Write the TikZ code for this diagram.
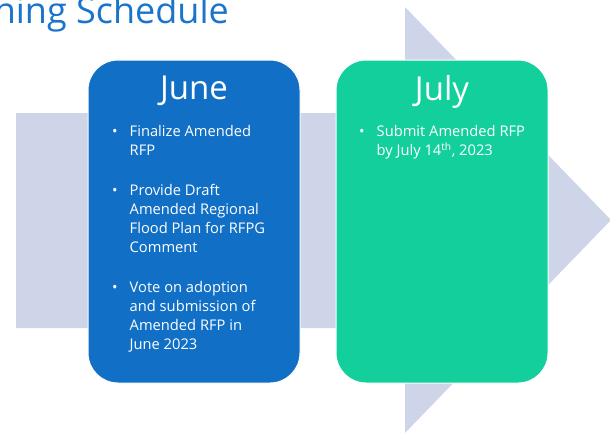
\documentclass[tikz,border=0pt]{standalone}
\usepackage{fontspec}
\setmainfont{Open Sans}
\usetikzlibrary{positioning}
\definecolor{arrowgray}{HTML}{CED5E9}
\definecolor{juneblue}{HTML}{1170C6}
\definecolor{julygreen}{HTML}{13CF9C}
\definecolor{titleblue}{HTML}{1B74CC}
\newcommand{\bul}{\leavevmode\llap{\textbullet\hspace{12pt}}}

\begin{document}
\begin{tikzpicture}[x=1pt,y=-1pt,node distance=248pt,
	month/.style={rectangle,rounded corners=30pt,draw=white,line width=1pt,
		minimum width=212pt,minimum height=323pt},
	monthname/.style={text=white,inner sep=0pt,font=\fontsize{33}{39}\selectfont},
	tasks/.style={text=white,inner sep=0pt,align=left,font=\fontsize{14.7}{19}\selectfont}]
	\useasboundingbox (0,0) rectangle (610,434);
	\clip (0,0) rectangle (610,434);

	% big arrow behind the months
	\fill[arrowgray] (16,113) -- (405,113) -- (405,7) -- (611,220)
		-- (405,433) -- (405,328) -- (16,328) -- cycle;

	\node[anchor=base east,inner sep=0pt,text=titleblue,
		font=\fontsize{36}{42}\selectfont] (Title) at (229,23) {ning Schedule};

	\node[month,fill=juneblue]  (June) at (194,221.5) {};
	\node[month,fill=julygreen] (July) [right of=June] {};

	\node[monthname] (JuneName) [below=16pt of June.north] {June};
	\node[monthname] (JulyName) [below=16pt of July.north] {July};

	\node[tasks] (JuneTasks) [below right=65.5pt and 42pt of June.north west]
		{\bul Finalize Amended\\RFP\\[21pt]
		\bul Provide Draft\\Amended Regional\\Flood Plan for RFPG\\Comment\\[21pt]
		\bul Vote on adoption\\and submission of\\Amended RFP in\\June 2023};
	\node[tasks] (JulyTasks) [below right=66pt and 41pt of July.north west]
		{\bul Submit Amended RFP\\by July 14\textsuperscript{th}, 2023};
\end{tikzpicture}
\end{document}
